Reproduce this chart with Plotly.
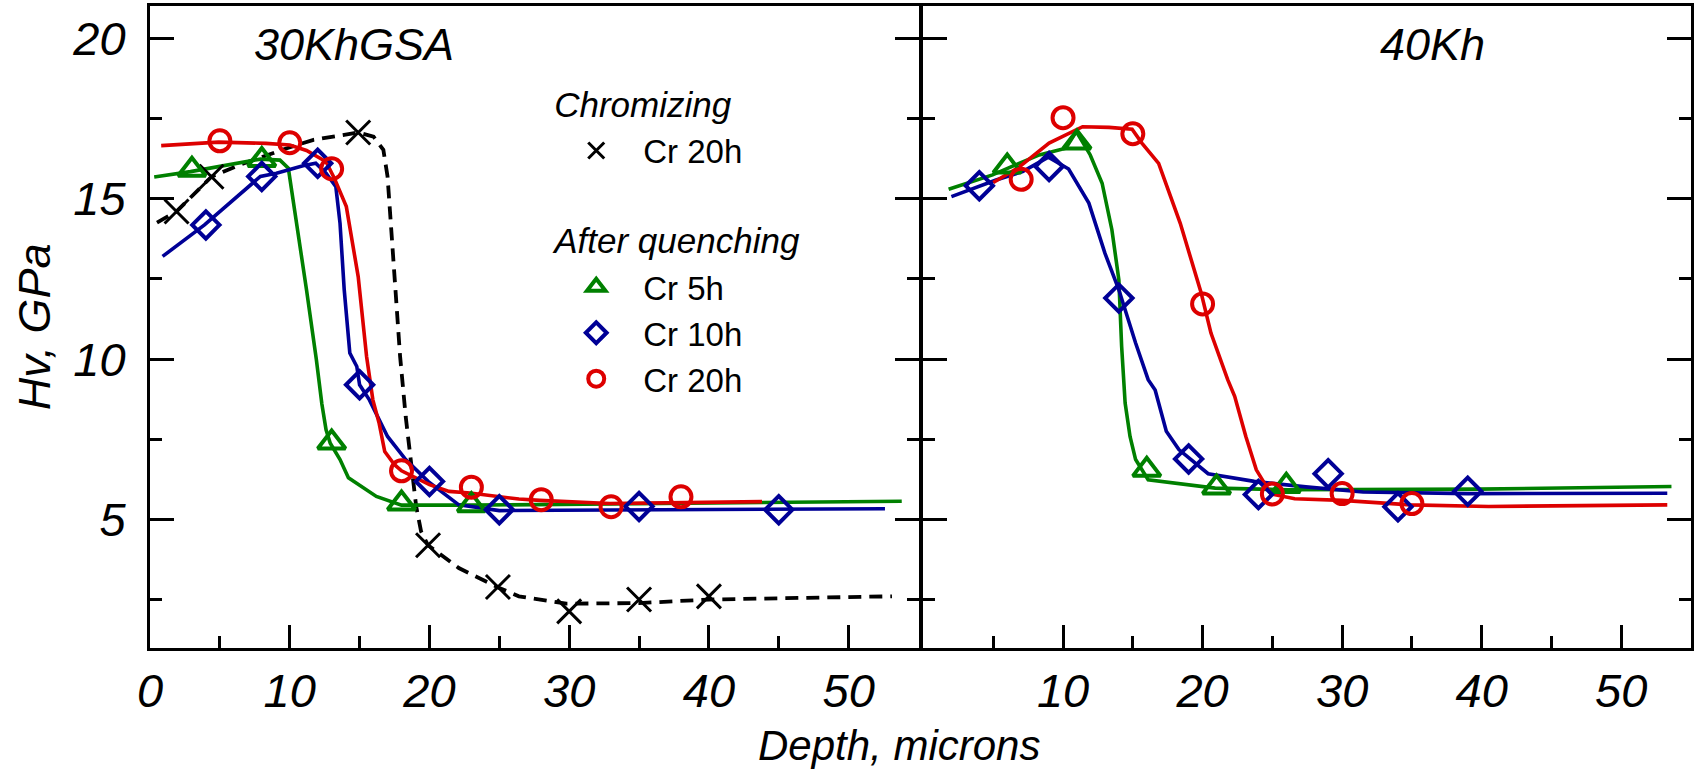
import plotly.graph_objects as go

# ---------------- data : left panel (30KhGSA) ----------------
chrom_line_x = [0.5, 1.9, 4.4, 6.4, 9.8, 11.7, 14.9, 16.0, 16.7, 17.0, 17.4, 17.9, 18.3, 18.7, 19.05, 19.4, 19.9, 22.1, 25.0, 26.4, 29.8, 35.0, 40.0, 53.1]
chrom_line_y = [14.25, 14.6, 15.68, 16.05, 16.57, 16.83, 17.06, 16.93, 16.52, 15.69, 13.2, 10.08, 8.21, 6.76, 5.41, 4.63, 4.2, 3.49, 2.87, 2.61, 2.38, 2.4, 2.51, 2.61]
chrom_pts_x = [1.9, 4.4, 14.9, 19.9, 24.9, 30.0, 35.0, 40.0]
chrom_pts_y = [14.6, 15.68, 17.06, 4.2, 2.9, 2.14, 2.51, 2.61]

l_g_line_x = [0.3, 2.9, 7.9, 9.3, 9.9, 10.5, 11.2, 11.9, 12.3, 12.6, 12.9, 13.6, 14.2, 16.2, 18.0, 23.0, 30.0, 40.0, 53.8]
l_g_line_y = [15.67, 15.84, 16.23, 16.2, 15.95, 14.23, 12.16, 10.0, 8.6, 7.8, 7.38, 6.87, 6.3, 5.72, 5.45, 5.45, 5.48, 5.52, 5.57]
l_g_pts_x = [3, 8, 13, 18, 23]
l_g_pts_y = [15.9, 16.2, 7.4, 5.5, 5.45]

l_b_line_x = [0.9, 3.9, 7.9, 9.05, 10.95, 11.86, 12.6, 13.3, 13.6, 13.9, 14.3, 14.8, 15.0, 15.7, 17.0, 18.3, 19.9, 22.1, 25.0, 35.0, 45.0, 52.6]
l_b_line_y = [13.2, 14.18, 15.69, 15.79, 16.02, 16.1, 15.79, 15.37, 14.23, 12.16, 10.19, 9.77, 9.2, 8.73, 7.59, 6.87, 6.19, 5.46, 5.28, 5.3, 5.32, 5.34]
l_b_pts_x = [4, 8, 12, 15, 20, 25, 35, 45]
l_b_pts_y = [14.18, 15.69, 16.1, 9.2, 6.19, 5.31, 5.41, 5.31]

l_r_line_x = [0.8, 4.9, 8.3, 10.0, 11.2, 12.6, 13.2, 14.05, 14.9, 15.5, 15.95, 16.4, 16.8, 17.5, 18.0, 20.0, 21.4, 22.9, 26.4, 27.9, 32.9, 37.9, 43.8]
l_r_line_y = [16.65, 16.76, 16.72, 16.67, 16.5, 16.15, 15.63, 14.75, 12.57, 10.08, 8.73, 8.0, 7.12, 6.71, 6.52, 6.09, 5.88, 5.83, 5.64, 5.6, 5.5, 5.52, 5.56]
l_r_pts_x = [5, 10, 13, 18, 23, 28, 33, 38]
l_r_pts_y = [16.8, 16.74, 15.93, 6.52, 6.01, 5.62, 5.4, 5.71]

# ---------------- data : right panel (40Kh) ----------------
r_g_line_x = [1.8, 4.95, 6.6, 8.3, 10.2, 10.95, 11.95, 12.8, 13.5, 14.0, 14.2, 14.45, 14.8, 15.2, 16.1, 20.9, 26.1, 31.5, 39.8, 53.6]
r_g_line_y = [15.29, 15.74, 16.05, 16.36, 16.57, 17.09, 16.36, 15.48, 14.03, 12.47, 10.39, 8.63, 7.59, 6.87, 6.24, 5.98, 5.93, 5.93, 5.95, 6.03]
r_g_pts_x = [6, 11, 16, 21, 26]
r_g_pts_y = [16.0, 16.75, 6.55, 6.0, 6.05]

r_b_line_x = [2.0, 3.3, 5.2, 7.1, 8.95, 10.4, 11.85, 13.0, 14.0, 15.2, 16.1, 16.6, 17.4, 18.3, 19.7, 20.4, 23.7, 27.4, 31.5, 39.0, 53.3]
r_b_line_y = [15.06, 15.27, 15.58, 15.84, 16.29, 15.92, 14.86, 13.3, 12.16, 10.5, 9.36, 9.04, 7.75, 7.18, 6.66, 6.43, 6.19, 6.02, 5.86, 5.81, 5.82]
r_b_pts_x = [4, 9, 14, 19, 24, 29, 34, 39]
r_b_pts_y = [15.4, 16.0, 11.9, 6.89, 5.78, 6.43, 5.4, 5.88]

r_r_line_x = [5.0, 6.85, 9.0, 11.4, 13.3, 14.95, 15.65, 16.85, 18.4, 19.9, 20.6, 21.8, 22.3, 23.1, 23.85, 24.45, 24.9, 26.6, 30.0, 34.9, 40.5, 53.3]
r_r_line_y = [15.5, 15.98, 16.73, 17.24, 17.22, 17.16, 16.73, 16.1, 14.23, 12.06, 10.81, 9.36, 8.84, 7.59, 6.55, 6.09, 5.8, 5.65, 5.6, 5.46, 5.41, 5.46]
r_r_pts_x = [7, 10, 15, 20, 25, 30, 35]
r_r_pts_y = [15.6, 17.52, 17.02, 11.72, 5.8, 5.81, 5.5]

x_major = [0, 10, 20, 30, 40, 50]
x_major_right = [10, 20, 30, 40, 50]
x_minor = [5, 15, 25, 35, 45]
y_major = [5, 10, 15, 20]
y_minor = [2.5, 7.5, 12.5, 17.5]

# ---------------- styles ----------------
FONT = "Arial, 'Liberation Sans', sans-serif"
RED = "#dd0000"
GREEN = "#008000"
BLUE = "#000096"
BLACK = "#000000"
LW = 3.6
MLW = 4

fig = go.Figure()


def line(x, y, color, xa, ya, dash=None, width=LW):
    fig.add_trace(go.Scatter(x=x, y=y, mode="lines", xaxis=xa, yaxis=ya,
                             line=dict(color=color, width=width, dash=dash),
                             showlegend=False, hoverinfo="skip"))


def pts(x, y, color, symbol, size, xa, ya, name, show, group, gtitle=None, lw=MLW):
    tr = go.Scatter(x=x, y=y, mode="markers", xaxis=xa, yaxis=ya, name=name,
                    marker=dict(symbol=symbol, size=size, color=color,
                                line=dict(color=color, width=lw)),
                    showlegend=show, legendgroup=group)
    if gtitle is not None:
        tr.legendgrouptitle = dict(text=gtitle, font=dict(size=35, style="italic", family=FONT, color=BLACK))
    fig.add_trace(tr)


# left panel
line(chrom_line_x, chrom_line_y, BLACK, "x", "y", dash="13px,8px", width=3.8)
line(l_g_line_x, l_g_line_y, GREEN, "x", "y")
line(l_b_line_x, l_b_line_y, BLUE, "x", "y")
line(l_r_line_x, l_r_line_y, RED, "x", "y")
pts(chrom_pts_x, chrom_pts_y, BLACK, "x-thin-open", 24, "x", "y", "Cr 20h", True, "chrom", "Chromizing", lw=3)
pts(l_g_pts_x, l_g_pts_y, GREEN, "triangle-up-open", 24, "x", "y", "Cr 5h", True, "quench", "After quenching")
pts(l_b_pts_x, l_b_pts_y, BLUE, "diamond-open", 21, "x", "y", "Cr 10h", True, "quench")
pts(l_r_pts_x, l_r_pts_y, RED, "circle-open", 21, "x", "y", "Cr 20h", True, "quench")

# right panel
line(r_g_line_x, r_g_line_y, GREEN, "x2", "y2")
line(r_b_line_x, r_b_line_y, BLUE, "x2", "y2")
line(r_r_line_x, r_r_line_y, RED, "x2", "y2")
pts(r_g_pts_x, r_g_pts_y, GREEN, "triangle-up-open", 24, "x2", "y2", "Cr 5h", False, "quench")
pts(r_b_pts_x, r_b_pts_y, BLUE, "diamond-open", 21, "x2", "y2", "Cr 10h", False, "quench")
pts(r_r_pts_x, r_r_pts_y, RED, "circle-open", 21, "x2", "y2", "Cr 20h", False, "quench")

W, H = 1695, 774
ML, MR, MT, MB = 150, 1, 6, 126
PW = W - ML - MR
PH = H - MT - MB
left_dom = [0, (920 - ML) / PW]
right_dom = [(925 - ML) / PW, 1.0]

tickfont = dict(family=FONT, size=47, color=BLACK, style="italic")
axis_common = dict(showline=True, linewidth=3, linecolor=BLACK, showgrid=False, zeroline=False,
                   ticks="inside", tickwidth=3, tickcolor=BLACK, tickfont=tickfont)
minor_common = dict(ticks="inside", ticklen=12, tickwidth=3, tickcolor=BLACK, tickmode="array")

fig.update_layout(
    width=W, height=H, autosize=False,
    margin=dict(l=ML, r=MR, t=MT, b=MB, pad=0),
    paper_bgcolor="white", plot_bgcolor="white",
    font=dict(family=FONT, color=BLACK),
    xaxis=dict(domain=left_dom, range=[0, 55], anchor="y", mirror=True, ticklen=23,
               tickmode="array", tickvals=x_major, ticklabelstandoff=0,
               minor=dict(tickvals=x_minor, **minor_common), **axis_common),
    yaxis=dict(domain=[0, 1], range=[1, 21], anchor="x", mirror="ticks", ticklen=24,
               tickmode="array", tickvals=y_major, ticklabelstandoff=12,
               minor=dict(tickvals=y_minor, **minor_common), **axis_common),
    xaxis2=dict(domain=right_dom, range=[0, 55], anchor="y2", mirror=True, ticklen=23,
                tickmode="array", tickvals=x_major_right, ticklabelstandoff=0,
                minor=dict(tickvals=x_minor, **minor_common), **axis_common),
    yaxis2=dict(domain=[0, 1], range=[1, 21], anchor="x2", mirror="ticks", ticklen=24,
                tickmode="array", tickvals=y_major, showticklabels=False,
                minor=dict(tickvals=y_minor, **minor_common), **axis_common),
    legend=dict(x=(550 - ML) / PW, y=(648 - 74) / PH, xanchor="left", yanchor="top",
                bgcolor="rgba(0,0,0,0)", borderwidth=0, itemwidth=84,
                font=dict(family=FONT, size=33, color=BLACK),
                tracegroupgap=42, traceorder="grouped", itemclick=False, itemdoubleclick=False),
    showlegend=True,
)

ann_font = dict(family=FONT, size=45, color=BLACK, style="italic")
fig.add_annotation(x=14.6, y=19.8, xref="x", yref="y", text="30KhGSA", showarrow=False, font=ann_font,
                   xanchor="center", yanchor="middle")
fig.add_annotation(x=36.5, y=19.8, xref="x2", yref="y2", text="40Kh", showarrow=False, font=ann_font,
                   xanchor="center", yanchor="middle")
fig.add_annotation(x=(34 - ML) / PW, y=0.5, xref="paper", yref="paper", text="Hv, GPa", textangle=-90,
                   showarrow=False, xanchor="center", yanchor="middle",
                   font=dict(family=FONT, size=45, color=BLACK, style="italic"))
fig.add_annotation(x=(900 - ML) / PW, y=(648 - 746) / PH, xref="paper", yref="paper", text="Depth, microns",
                   showarrow=False, xanchor="center", yanchor="middle",
                   font=dict(family=FONT, size=42, color=BLACK, style="italic"))

fig.write_html("out.html")
